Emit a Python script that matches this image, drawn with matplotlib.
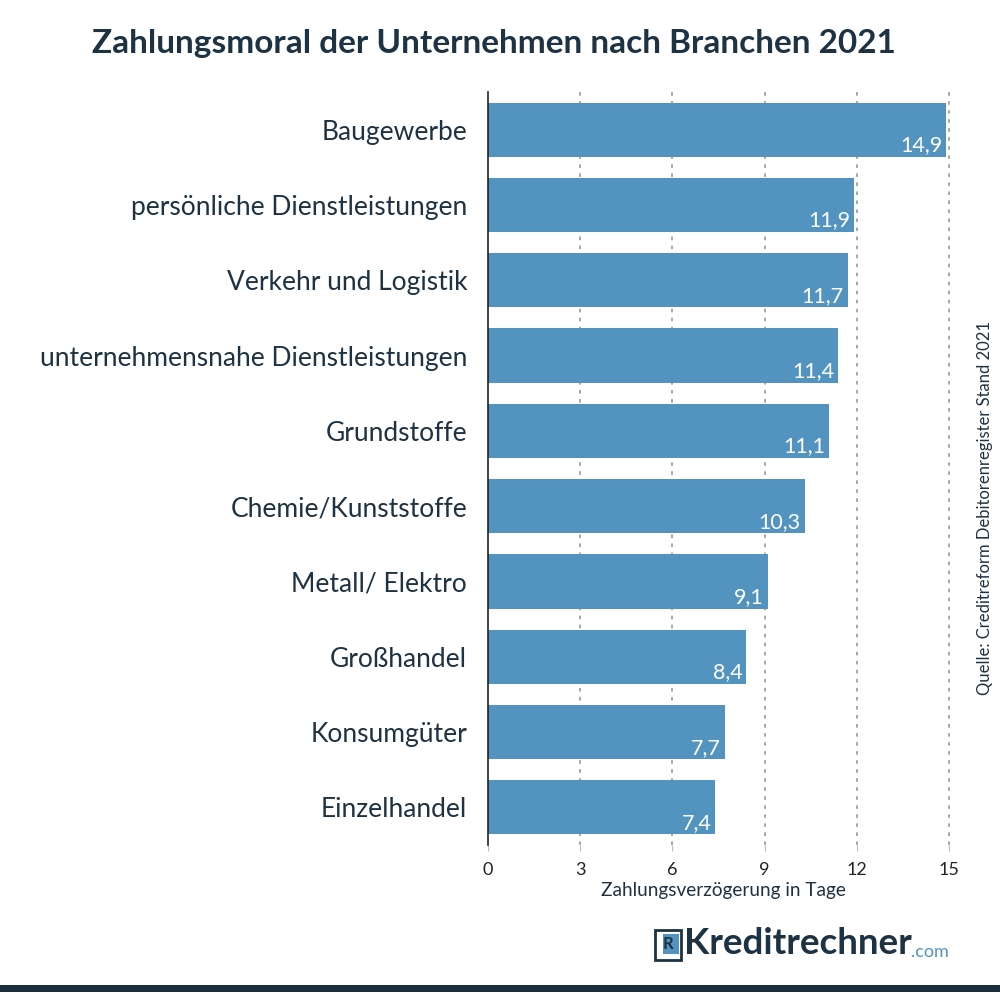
import matplotlib
matplotlib.use("Agg")
import matplotlib.pyplot as plt
from matplotlib.patches import Rectangle

# Daten
branchen = [
    "Baugewerbe",
    "persönliche Dienstleistungen",
    "Verkehr und Logistik",
    "unternehmensnahe Dienstleistungen",
    "Grundstoffe",
    "Chemie/Kunststoffe",
    "Metall/ Elektro",
    "Großhandel",
    "Konsumgüter",
    "Einzelhandel",
]
tage = [14.9, 11.9, 11.7, 11.4, 11.1, 10.3, 9.1, 8.4, 7.7, 7.4]
xticks = [0, 3, 6, 9, 12, 15]

DARK = "#1d3242"
BLUE = "#5393bf"

plt.rcParams["font.family"] = ["Lato", "DejaVu Sans"]

W, H = 1000, 992
fig = plt.figure(figsize=(W / 100, H / 100), dpi=100)

# axes: x=0 at px 488, 15 at px 949; y from px 92 to 845
px_per_unit = (949 - 488) / 15
xmax = 15.3
ax = fig.add_axes([488 / W, 1 - 845 / H, xmax * px_per_unit / W, (845 - 92) / H])

y = list(range(len(branchen)))
ax.barh(y, tage, height=0.72, color=BLUE, zorder=2)
ax.set_ylim(len(branchen) - 0.5, -0.5)
ax.set_xlim(0, xmax)

for xi in xticks[1:]:
    ax.axvline(xi, color="#a0a0a0", lw=1.3, ls=(0, (2, 3)), zorder=1)

for yi, v in zip(y, tage):
    ax.text(v - 0.12, yi + 0.34, f"{v:.1f}".replace(".", ","), color="white",
            fontsize=15.5, ha="right", va="bottom", zorder=3)

ax.set_yticks(y)
ax.set_yticklabels(branchen, fontsize=19, color=DARK)
ax.set_xticks(xticks)
ax.set_xticklabels([str(t) for t in xticks], fontsize=13, color="#222222")
ax.tick_params(axis="y", length=0, pad=15)
ax.tick_params(axis="x", length=4, color="#bbbbbb", pad=8)
ax.set_xlabel("Zahlungsverzögerung in Tage", fontsize=13.7, color=DARK, labelpad=3)

for s in ["top", "right", "bottom"]:
    ax.spines[s].set_visible(False)
ax.spines["left"].set_color("#222222")
ax.spines["left"].set_linewidth(1.2)

fig.text(494 / W, 1 - 44 / H, "Zahlungsmoral der Unternehmen nach Branchen 2021",
         fontsize=24, fontweight="bold", color=DARK, ha="center", va="center")

fig.text(985 / W, 1 - 508 / H, "Quelle: Creditreform Debitorenregister Stand 2021",
         fontsize=12, color=DARK, rotation=90, ha="center", va="center")

# Logo
fig.patches.append(Rectangle((655 / W, 1 - 960 / H), 26 / W, 30 / H,
                             transform=fig.transFigure, facecolor="white",
                             edgecolor=DARK, lw=2))
fig.patches.append(Rectangle((663 / W, 1 - 954 / H), 16 / W, 20 / H,
                             transform=fig.transFigure, facecolor=BLUE,
                             edgecolor="none"))
fig.text(668 / W, 1 - 944 / H, "R", fontsize=12, fontweight="bold", color=DARK,
         ha="center", va="center")
fig.text(684 / W, 1 - 944 / H, "Kreditrechner", fontsize=26.5, fontweight="bold",
         color=DARK, ha="left", va="center")
fig.text(911 / W, 1 - 952 / H, ".com", fontsize=13, color=BLUE, ha="left", va="center")

# dunkler Balken unten
fig.patches.append(Rectangle((0, 0), 1, 7 / H, transform=fig.transFigure,
                             facecolor="#1a2e3b", edgecolor="none"))

fig.savefig("out.png", dpi=100)
